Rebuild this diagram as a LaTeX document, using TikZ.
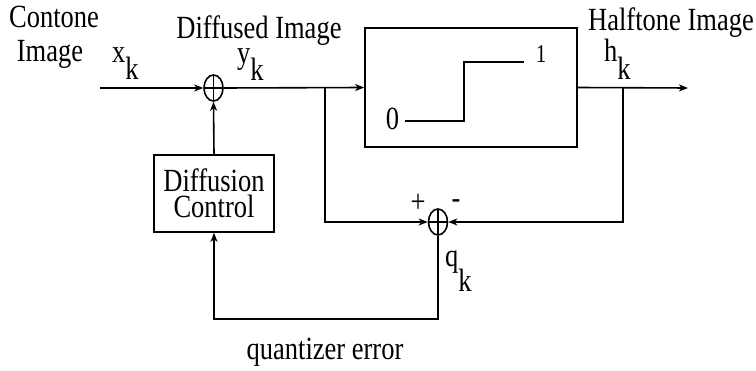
\documentclass[tikz,border=0pt]{standalone}
\usepackage{fontspec}
\setmainfont{Liberation Serif}
\usepackage{graphicx}
\usetikzlibrary{arrows.meta,shapes.geometric}
\newcommand{\tx}[1]{\scalebox{1}[1.22]{#1}}
\newcommand{\sbk}[2]{\tx{#1}\raisebox{-#2pt}{\tx{k}}}
\tikzset{
  lbl/.style={anchor=base,inner sep=0pt,font=\fontsize{26.5}{30}\selectfont},
  sublbl/.style={anchor=base west,inner sep=0pt,font=\fontsize{26.5}{30}\selectfont},
  blk/.style={draw,line width=1.6pt,inner sep=0pt},
  sumnode/.style={draw,ellipse,line width=1.6pt,minimum width=19pt,minimum height=26pt,inner sep=0pt,
    path picture={\draw[line width=1.3pt] (path picture bounding box.north) -- (path picture bounding box.south);
                  \draw[line width=1.3pt] (path picture bounding box.west) -- (path picture bounding box.east);}},
  wire/.style={line width=1.6pt},
  arr/.style={wire,-{Stealth[length=9pt,width=7pt,inset=2.5pt]}}
}
\begin{document}
\begin{tikzpicture}[x=1pt,y=-1pt]
\useasboundingbox (0,0) rectangle (756,371);
% blocks
\node[blk,minimum width=212pt,minimum height=119pt] (quant) at (471,87.5) {};
\node[blk,minimum width=120pt,minimum height=77pt,align=center,
      font=\fontsize{26.5}{26}\selectfont] (dc) at (214,193.5) {\tx{Diffusion}\\\tx{Control}};
\node[sumnode] (s1) at (213.5,88) {};
\node[sumnode] (s2) at (438,222) {};
% step function
\coordinate (st0) at (405,121);
\coordinate (st1) at (464,121);
\coordinate (st2) at (464,62);
\coordinate (st3) at (524,62);
\draw[wire] (st0) -- (st1) -- (st2) -- (st3);
% coordinates
\coordinate (in) at (100,88);
\coordinate (b1) at (325,88);
\coordinate (b1d) at (325,222);
\coordinate (out) at (688,88);
\coordinate (b2) at (623,88);
\coordinate (b2d) at (623,222);
\coordinate (qd) at (438,319);
\coordinate (qdl) at (214,319);
% wires
\draw[arr] (in) -- (s1.west);
\draw[arr] (s1.east) -- (quant.west);
\draw[arr] (b1) -- (b1d) -- (s2.west);
\draw[arr] (quant.east) -- (out);
\draw[arr] (b2) -- (b2d) -- (s2.east);
\draw[arr] (s2.south) -- (qd) -- (qdl) -- (dc.south);
\draw[arr] (dc.north) -- (s1.south);
% labels
\node[lbl] (t1) at (54,28) {\tx{Contone}};
\node[lbl] (t2) at (50,62) {\tx{Image}};
\node[lbl] (t3) at (259,39) {\tx{Diffused Image}};
\node[lbl] (t4) at (671,31) {\tx{Halftone Image}};
\node[sublbl] (xk) at (112,63) {\sbk{x}{17}};
\node[sublbl] (yk) at (237,63.5) {\sbk{y}{17}};
\node[sublbl] (hk) at (604,62) {\sbk{h}{18}};
\node[sublbl] (qk) at (445,267) {\sbk{q}{25}};
\node[lbl] (plus) at (418,213) {\tx{+}};
\node[lbl] (minus) at (456,209) {\tx{-}};
\node[lbl] (zero) at (392.5,130) {\tx{0}};
\node[lbl,font=\fontsize{21}{24}\selectfont] (one) at (541,63) {\tx{1}};
\node[lbl] (qe) at (325,360) {\tx{quantizer error}};
\end{tikzpicture}
\end{document}
